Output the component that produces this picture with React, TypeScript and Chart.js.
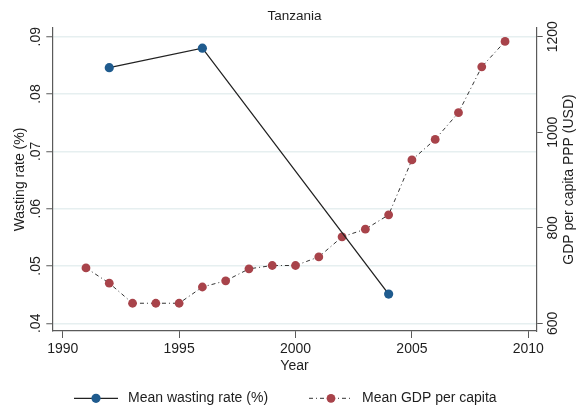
import React, { useEffect, useRef } from 'react';
import { Chart, registerables } from 'chart.js';

Chart.register(...registerables);

// ---- data ----
const chartTitle = 'Tanzania';
const wastingYears = [1992, 1996, 2004];
const wastingRates = [0.0846, 0.088, 0.0451];
const gdpYears = [1991, 1992, 1993, 1994, 1995, 1996, 1997, 1998, 1999, 2000, 2001, 2002, 2003, 2004, 2005, 2006, 2007, 2008, 2009];
const gdpValues = [716, 684, 642, 642, 642, 676, 689, 714, 721, 721, 739, 781, 797, 827, 942, 985, 1041, 1137, 1190];
const xTicks = [1990, 1995, 2000, 2005, 2010];
const leftTicks = [0.04, 0.05, 0.06, 0.07, 0.08, 0.09];
const rightTicks = [600, 800, 1000, 1200];
const xTitle = 'Year';
const leftTitle = 'Wasting rate (%)';
const rightTitle = 'GDP per capita PPP (USD)';
const legendLabels = ['Mean wasting rate (%)', 'Mean GDP per capita'];

// ---- style ----
const FONT = "'Liberation Sans', Arial, Helvetica, sans-serif";
const TEXT = '#1e1e1e';
const AXIS = '#5a5a5a';
const GRID = '#E6EFF0';
const BLUE = '#1F5B8E';
const RED = '#A8434A';
const DASH = [4, 3, 1, 3];

const extrasPlugin = {
  id: 'extras',
  afterDraw(chart: any) {
    const { ctx, chartArea } = chart;
    ctx.save();
    ctx.font = `14px ${FONT}`;
    ctx.fillStyle = TEXT;
    ctx.translate(569, (chartArea.top + chartArea.bottom) / 2);
    ctx.rotate(-Math.PI / 2);
    ctx.textAlign = 'center';
    ctx.textBaseline = 'middle';
    ctx.fillText(rightTitle, 0, 0);
    ctx.restore();

    // legend
    const ly = 398.3;
    const items = [
      { x0: 74, x1: 118, mx: 96, tx: 128, color: BLUE, dash: [] as number[], lw: 1.3, lc: '#222', r: 4.6 },
      { x0: 309, x1: 350, mx: 331, tx: 362, color: RED, dash: DASH, lw: 1, lc: '#333', r: 4.4 },
    ];
    items.forEach((it, i) => {
      ctx.save();
      ctx.strokeStyle = it.lc;
      ctx.lineWidth = it.lw;
      ctx.setLineDash(it.dash);
      ctx.beginPath();
      ctx.moveTo(it.x0, ly);
      ctx.lineTo(it.x1, ly);
      ctx.stroke();
      ctx.setLineDash([]);
      ctx.fillStyle = it.color;
      ctx.beginPath();
      ctx.arc(it.mx, ly, it.r, 0, Math.PI * 2);
      ctx.fill();
      ctx.font = `14px ${FONT}`;
      ctx.fillStyle = TEXT;
      ctx.textAlign = 'left';
      ctx.textBaseline = 'middle';
      ctx.fillText(legendLabels[i], it.tx, ly);
      ctx.restore();
    });
  },
};

export default function App() {
  const ref = useRef<HTMLCanvasElement | null>(null);

  useEffect(() => {
    if (!ref.current) return;
    const chart = new Chart(ref.current, {
      type: 'line',
      data: {
        datasets: [
          {
            label: legendLabels[0],
            data: wastingYears.map((x, i) => ({ x, y: wastingRates[i] })),
            yAxisID: 'y',
            borderColor: '#222',
            borderWidth: 1.3,
            pointRadius: 4.6,
            pointBackgroundColor: BLUE,
            pointBorderColor: BLUE,
            pointBorderWidth: 0,
            tension: 0,
          },
          {
            label: legendLabels[1],
            data: gdpYears.map((x, i) => ({ x, y: gdpValues[i] })),
            yAxisID: 'y1',
            borderColor: '#333',
            borderWidth: 1,
            borderDash: DASH,
            pointRadius: 4.4,
            pointBackgroundColor: RED,
            pointBorderColor: RED,
            pointBorderWidth: 0,
            tension: 0,
          },
        ],
      },
      options: {
        animation: false,
        responsive: false,
        layout: { padding: 0 },
        plugins: {
          legend: { display: false },
          tooltip: { enabled: false },
          title: {
            display: true,
            text: chartTitle,
            fullSize: false,
            color: TEXT,
            font: { size: 13.5, family: FONT, weight: 'normal' },
            padding: { top: 8.6, bottom: 3.2 },
          },
        },
        scales: {
          x: {
            type: 'linear',
            position: 'bottom',
            min: 1989.553,
            max: 2010.36,
            afterBuildTicks: (s: any) => { s.ticks = xTicks.map((v) => ({ value: v })); },
            afterFit: (s: any) => { s.height = 81; },
            grid: { drawOnChartArea: false, drawTicks: true, tickLength: 7, tickColor: AXIS, tickWidth: 1 },
            border: { display: true, color: AXIS, width: 1.2 },
            ticks: {
              minRotation: 0, maxRotation: 0, padding: 3, color: TEXT,
              font: { size: 14, family: FONT },
              callback: (v: any) => String(v),
            },
            title: {
              display: true, text: xTitle, color: TEXT,
              font: { size: 14, family: FONT },
              padding: { top: 0, bottom: 37.1 },
            },
          },
          y: {
            type: 'linear',
            position: 'left',
            min: 0.03866,
            max: 0.09152,
            afterBuildTicks: (s: any) => { s.ticks = leftTicks.map((v) => ({ value: v })); },
            afterFit: (s: any) => { s.width = 52.3; },
            grid: { color: GRID, lineWidth: 1.5, drawTicks: true, tickLength: 6, tickColor: AXIS, tickWidth: 1 },
            border: { display: true, color: AXIS, width: 1.2 },
            ticks: {
              minRotation: 90, maxRotation: 90, crossAlign: 'center', padding: 0, color: TEXT,
              font: { size: 14, family: FONT },
              callback: (v: any) => Number(v).toFixed(2).replace(/^0/, ''),
            },
            title: {
              display: true, text: leftTitle, color: TEXT,
              font: { size: 14, family: FONT },
              padding: { top: 11.6, bottom: 0 },
            },
          },
          y1: {
            type: 'linear',
            position: 'right',
            min: 583.9,
            max: 1218.2,
            afterBuildTicks: (s: any) => { s.ticks = rightTicks.map((v) => ({ value: v })); },
            afterFit: (s: any) => { s.width = 40.3; },
            grid: { drawOnChartArea: false, drawTicks: true, tickLength: 6, tickColor: AXIS, tickWidth: 1 },
            border: { display: true, color: AXIS, width: 1.2 },
            ticks: {
              minRotation: 90, maxRotation: 90, crossAlign: 'center', padding: -5.6, color: TEXT,
              font: { size: 14, family: FONT },
              callback: (v: any) => String(v),
            },
            title: { display: false },
          },
        },
      } as any,
      plugins: [extrasPlugin],
    });
    return () => chart.destroy();
  }, []);

  return (
    <div style={{ position: 'fixed', left: 0, top: 0, width: 577, height: 412, background: '#fff' }}>
      <canvas ref={ref} width={577} height={412} style={{ display: 'block' }} />
    </div>
  );
}
